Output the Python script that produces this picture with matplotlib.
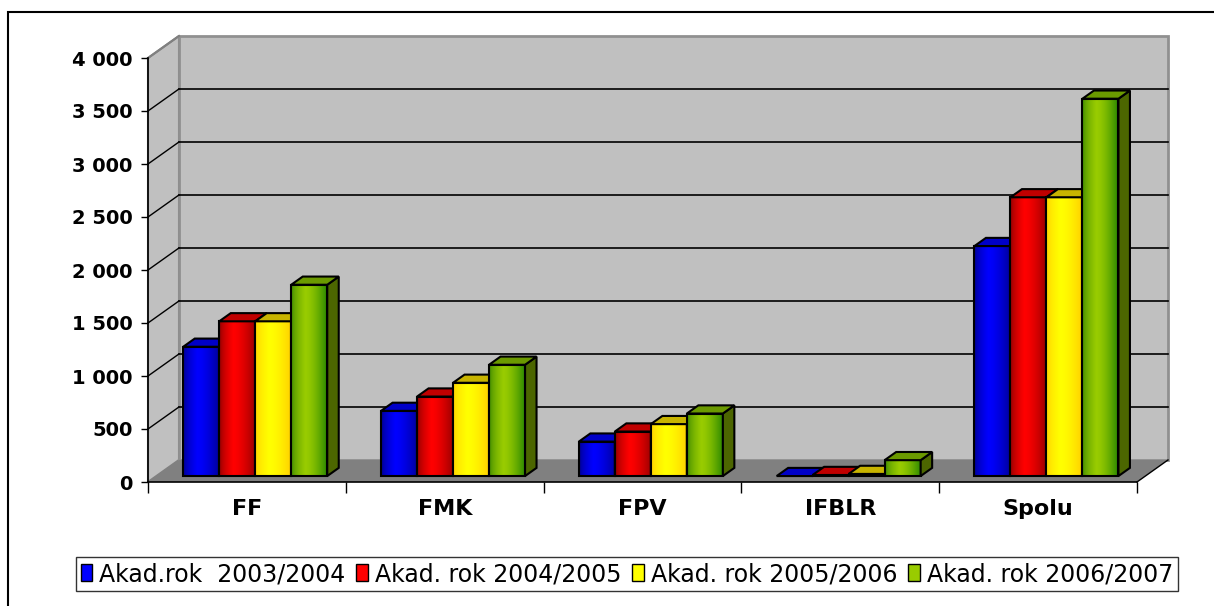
import matplotlib.pyplot as plt
import numpy as np
from matplotlib.patches import Polygon, Rectangle, Patch
from matplotlib.colors import to_rgb

plt.rcParams['font.family'] = ['DejaVu Sans']

# data
categories = ['FF', 'FMK', 'FPV', 'IFBLR', 'Spolu']
rok_2003 = [1220, 615, 325, 0, 2170]
rok_2004 = [1460, 750, 420, 10, 2630]
rok_2005 = [1460, 880, 490, 20, 2630]
rok_2006 = [1805, 1050, 590, 150, 3560]
series = [rok_2003, rok_2004, rok_2005, rok_2006]
labels = ['Akad.rok  2003/2004', 'Akad. rok 2004/2005',
          'Akad. rok 2005/2006', 'Akad. rok 2006/2007']
yticks = [0, 500, 1000, 1500, 2000, 2500, 3000, 3500, 4000]

# farby: (tmavy okraj, stred, pravy okraj, vrch, bok, legenda)
colors = [
    ('#000078', '#0000FF', '#0000A0', '#0000C8', '#000080', '#0000FF'),
    ('#780000', '#FF0000', '#A00000', '#C00000', '#800000', '#FF0000'),
    ('#FFC800', '#FFFF00', '#FFD200', '#C8B400', '#808000', '#FFFF00'),
    ('#2E7D00', '#99CC00', '#2E8A00', '#6B9900', '#4C6600', '#99CC00'),
]

W, H = 1214, 606
fig = plt.figure(figsize=(W / 100, H / 100), dpi=100)
ax = fig.add_axes([148 / W, (H - 482) / H, 989 / W, 424 / H])
ax.set_xlim(0, 5)
ax.set_ylim(0, 4000)

DX = 31 / 197.8   # hlbka v jednotkach kategorie
DY = 208          # hlbka v jednotkach osi y
f0, f1 = 0.27, 0.64
bw = 0.182
gap = 0.136
n = len(categories)

# steny
ax.add_patch(Polygon([(0, 0), (DX, DY), (DX, 4000 + DY), (0, 4000)],
                     closed=True, fc='#C0C0C0', ec='#808080', lw=1.5,
                     clip_on=False, zorder=1))
ax.add_patch(Polygon([(DX, DY), (n + DX, DY), (n + DX, 4000 + DY), (DX, 4000 + DY)],
                     closed=True, fc='#C0C0C0', ec='#909090', lw=2,
                     clip_on=False, zorder=1))
ax.add_patch(Polygon([(0, 0), (n, 0), (n + DX, DY), (DX, DY)],
                     closed=True, fc='#808080', ec='none',
                     clip_on=False, zorder=1.5))
ax.plot([n, n + DX], [0, DY], color='black', lw=1, clip_on=False, zorder=1.6)

for v in yticks[1:-1]:
    ax.plot([DX, n + DX], [v + DY, v + DY], color='black', lw=1.2,
            clip_on=False, zorder=1.2)
    ax.plot([0, DX], [v, v + DY], color='black', lw=1,
            clip_on=False, zorder=1.2)
ax.plot([0, DX], [4000, 4000 + DY], color='#808080', lw=1.5, clip_on=False, zorder=1.2)


def gradient(c_left, c_mid, c_right, npts=64):
    t = np.linspace(0, 1, npts)
    a, b, c = (np.array(to_rgb(x)) for x in (c_left, c_mid, c_right))
    out = np.zeros((1, npts, 3))
    for k, tt in enumerate(t):
        if tt < 0.4:
            s = tt / 0.4
            out[0, k] = a + (b - a) * np.sqrt(s)
        else:
            s = (tt - 0.4) / 0.6
            out[0, k] = b + (c - b) * s ** 1.5
    return out


ddx = (f1 - f0) * DX
ddy = (f1 - f0) * DY
base = f0 * DY
z = 3
for i in range(n):
    for j, vals in enumerate(series):
        v = vals[i]
        cl, cm, cr, ctop, cside, _ = colors[j]
        x0 = i + gap + j * bw + f0 * DX
        x1 = x0 + bw
        if v > 0:
            ax.imshow(gradient(cl, cm, cr), extent=[x0, x1, base, base + v],
                      aspect='auto', interpolation='bilinear', zorder=z, clip_on=False)
            ax.add_patch(Rectangle((x0, base), bw, v, fc='none', ec='black',
                                   lw=1.5, zorder=z + 0.1, clip_on=False))
            ax.add_patch(Polygon([(x1, base), (x1 + ddx, base + ddy),
                                  (x1 + ddx, base + v + ddy), (x1, base + v)],
                                 closed=True, fc=cside, ec='black', lw=1.5,
                                 zorder=z + 0.1, clip_on=False))
        ax.add_patch(Polygon([(x0, base + v), (x1, base + v),
                              (x1 + ddx, base + v + ddy), (x0 + ddx, base + v + ddy)],
                             closed=True, fc=ctop, ec='black', lw=1.5,
                             zorder=z + 0.1, clip_on=False))
        z += 0.2

ax.set_xlim(0, 5)
ax.set_ylim(0, 4000)
ax.set_facecolor('none')
for s in ['top', 'right']:
    ax.spines[s].set_visible(False)
ax.spines['left'].set_zorder(20)
ax.spines['bottom'].set_zorder(20)
ax.spines['left'].set_linewidth(1.2)
ax.spines['bottom'].set_linewidth(1.2)

ax.set_yticks(yticks)
ax.set_yticklabels([f'{v:,}'.replace(',', ' ') for v in yticks],
                   fontsize=14, fontweight='bold')
ax.tick_params(axis='y', length=5, width=1, pad=6)
ax.set_xticks(range(n + 1))
ax.set_xticklabels([])
ax.set_xticks(np.arange(n) + 0.5, minor=True)
ax.set_xticklabels(categories, minor=True, fontsize=16, fontweight='bold')
ax.tick_params(axis='x', which='major', length=8, width=1)
ax.tick_params(axis='x', which='minor', length=0, pad=12)

handles = [Patch(fc=c[5], ec='black', lw=1) for c in colors]
leg = fig.legend(handles, labels, loc='center', bbox_to_anchor=(627 / W, 1 - 574 / H),
                 ncol=4, fontsize=17, frameon=True, fancybox=False, edgecolor='black',
                 handlelength=0.5, handleheight=0.7, handletextpad=0.3,
                 columnspacing=0.45, borderpad=0.2, borderaxespad=0)
leg.get_frame().set_linewidth(1)

fig.patches.append(Rectangle((8 / W, -0.1), 2, 1.1 - 12 / H, transform=fig.transFigure,
                             fill=False, ec='black', lw=1.5))

fig.savefig('out.png', dpi=100)
